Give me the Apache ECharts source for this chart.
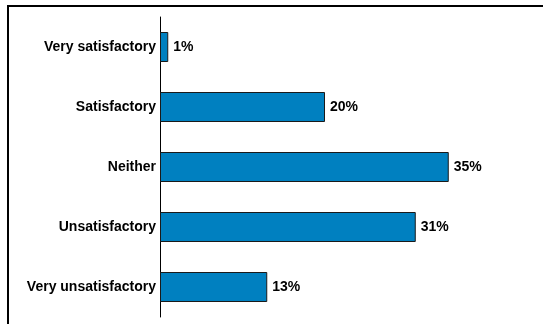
<!DOCTYPE html>
<html>
<head>
<meta charset="utf-8">
<script src="https://cdn.jsdelivr.net/npm/echarts@6/dist/echarts.min.js"></script>
<style>
  html, body { margin: 0; padding: 0; background: #fff; }
  .frame {
    position: absolute;
    left: 7px;
    top: 5px;
    right: 0;
    bottom: 0;
    border-top: 2px solid #000;
    border-left: 2px solid #000;
  }
  #chart { position: absolute; left: 0; top: 0; width: 543px; height: 324px; }
</style>
</head>
<body>
<div class="frame"></div>
<div id="chart"></div>
<script>
// answers, top to bottom
const categories = ['Very satisfactory', 'Satisfactory', 'Neither', 'Unsatisfactory', 'Very unsatisfactory']
const shares = [1, 20, 35, 31, 13]

const chart = echarts.init(document.getElementById('chart'), null, { renderer: 'canvas' })

const labelFont = {
  fontFamily: 'Liberation Sans, Arial, sans-serif',
  fontWeight: 'bold',
  fontSize: 14,
  color: '#000'
}

chart.setOption({
  animation: false,
  grid: { left: 160, top: 17, width: 330, height: 300, containLabel: false },
  xAxis: {
    type: 'value',
    min: 0,
    max: 40,
    show: false
  },
  yAxis: {
    type: 'category',
    data: categories,
    inverse: true,
    axisLine: { show: true, lineStyle: { color: '#000', width: 1 } },
    axisTick: { show: false },
    axisLabel: { ...labelFont, margin: 4 }
  },
  series: [{
    type: 'bar',
    data: shares,
    barWidth: '50%',
    itemStyle: { color: '#0080c0', borderColor: '#1a1a1a', borderWidth: 1 },
    label: {
      show: true,
      position: 'right',
      distance: 5,
      formatter: p => p.value + '%',
      ...labelFont
    }
  }]
})
</script>
</body>
</html>
